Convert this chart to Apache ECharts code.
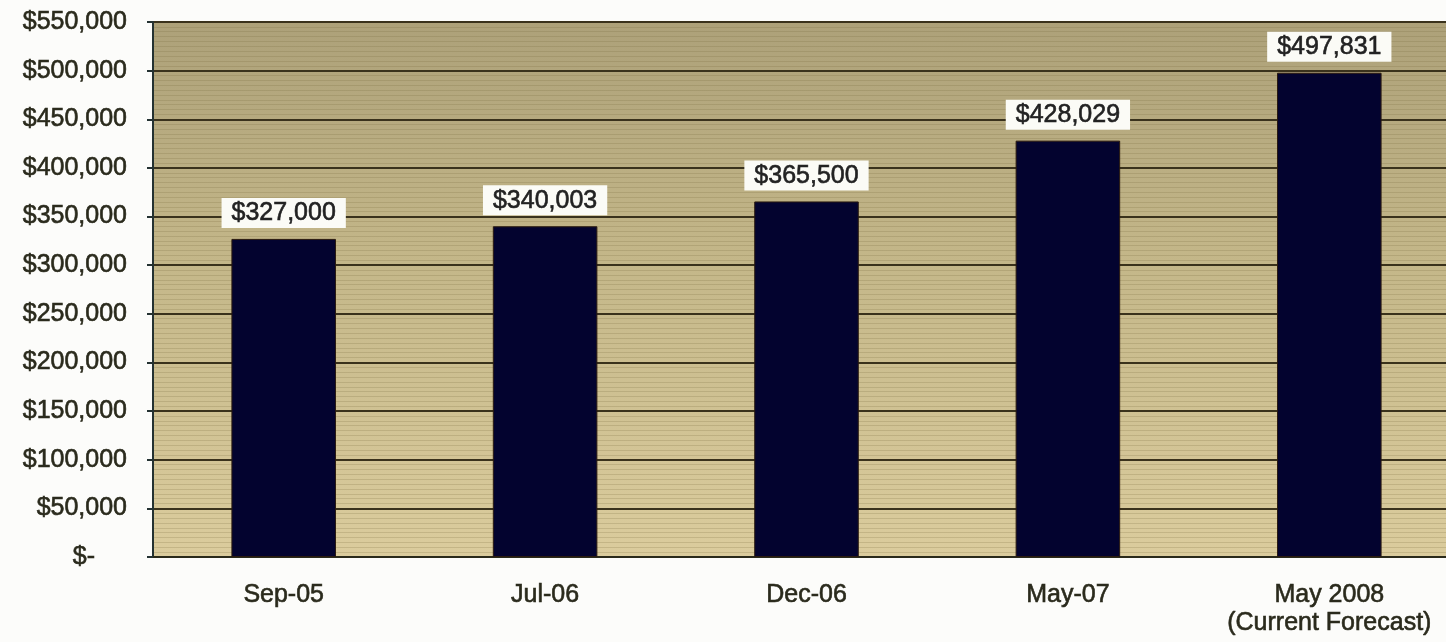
<!DOCTYPE html>
<html>
<head>
<meta charset="utf-8">
<script src="https://cdn.jsdelivr.net/npm/echarts@6/dist/echarts.min.js"></script>
<style>
  html, body { margin: 0; padding: 0; background: #fcfcfa; }
  #chart { width: 1446px; height: 642px; }
</style>
</head>
<body>
<div id="chart"></div>
<script>
// Home value by survey date
const categories = ['Sep-05', 'Jul-06', 'Dec-06', 'May-07', 'May 2008\n(Current Forecast)'];
const values = [327000, 340003, 365500, 428029, 497831];
const yMin = 0;
const yMax = 550000;
const yStep = 50000;

function money(v) {
  return '$' + Math.round(v).toLocaleString('en-US');
}

const font = '"Liberation Sans", Arial, sans-serif';
const textColor = '#2a2a1c';

// slightly heavier strokes for all text
const textWeight = { textBorderColor: textColor, textBorderWidth: 0.6 };

const chart = echarts.init(document.getElementById('chart'), null, { renderer: 'canvas' });

chart.setOption({
  backgroundColor: '#fcfcfa',
  animation: false,
  grid: {
    left: 153,
    top: 22,
    bottom: 85,
    right: -14,
    outerBoundsMode: 'none',
    containLabel: false,
    show: true,
    borderWidth: 0,
    backgroundColor: {
      type: 'linear', x: 0, y: 0, x2: 0, y2: 1,
      colorStops: [
        { offset: 0, color: '#ada179' },
        { offset: 0.45, color: '#c4b789' },
        { offset: 1, color: '#dbcc9d' }
      ]
    }
  },
  xAxis: {
    type: 'category',
    data: categories,
    axisLine: { show: true, lineStyle: { color: '#2a2a1a', width: 2 } },
    axisTick: { show: false },
    axisLabel: Object.assign({
      interval: 0,
      hideOverlap: false,
      margin: 24,
      color: textColor,
      fontFamily: font,
      fontSize: 25,
      lineHeight: 28
    }, textWeight)
  },
  yAxis: {
    type: 'value',
    min: yMin,
    max: yMax,
    interval: yStep,
    axisLine: { show: true, lineStyle: { color: '#243232', width: 2 } },
    axisTick: { show: true, length: 6, lineStyle: { color: '#243232', width: 2 } },
    axisLabel: Object.assign({
      margin: 26,
      color: textColor,
      fontFamily: font,
      fontSize: 25,
      formatter: function (v) {
        return v === 0 ? '{z|$-}' : money(v);
      },
      rich: {
        z: Object.assign({ fontFamily: font, fontSize: 25, color: textColor, padding: [0, 32, 0, 0] }, textWeight)
      }
    }, textWeight),
    splitLine: { show: true, lineStyle: { color: '#3a321c', width: 2 } },
    minorTick: { show: false, splitNumber: 10 },
    minorSplitLine: { show: true, lineStyle: { color: 'rgba(120,105,60,0.22)', width: 1 } }
  },
  series: [{
    type: 'bar',
    data: values,
    barWidth: '40%',
    itemStyle: { color: '#03032f', borderColor: '#2a1a10', borderWidth: 1 },
    label: Object.assign({
      show: true,
      position: 'top',
      distance: 11,
      formatter: function (p) { return money(p.value); },
      color: '#222222',
      fontFamily: font,
      fontSize: 25,
      backgroundColor: '#fbfbf6',
      padding: [3, 10, 2, 10]
    }, { textBorderColor: '#222222', textBorderWidth: 0.6 })
  }]
});
</script>
</body>
</html>
